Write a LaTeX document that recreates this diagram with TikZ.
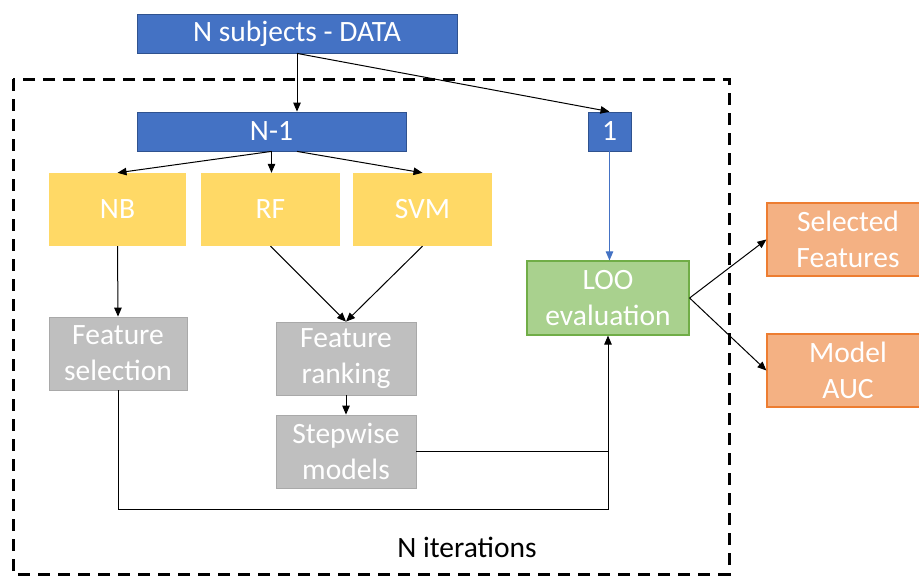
\documentclass[tikz,border=0pt]{standalone}
\usepackage{fontspec}
\setmainfont{Carlito}
\usetikzlibrary{arrows.meta,calc}
\definecolor{cblue}{HTML}{4472C4}
\definecolor{cblueb}{HTML}{2F528F}
\definecolor{cyel}{HTML}{FFD966}
\definecolor{cgray}{HTML}{BFBFBF}
\definecolor{cgrayb}{HTML}{A9A9A9}
\definecolor{cgreen}{HTML}{A9D18E}
\definecolor{cgreenb}{HTML}{70AD47}
\definecolor{corange}{HTML}{F4B183}
\definecolor{corangeb}{HTML}{ED7D31}
\tikzset{
  box/.style={rectangle, inner sep=0pt, text=white, align=center,
    font=\fontsize{29.5}{36}\selectfont},
  bluebox/.style={box, fill=cblue, draw=cblueb, line width=0.8pt},
  yelbox/.style={box, fill=cyel},
  graybox/.style={box, fill=cgray, draw=cgrayb, line width=0.8pt},
  greenbox/.style={box, fill=cgreen, draw=cgreenb, line width=1.2pt},
  orbox/.style={box, fill=corange, draw=corangeb, line width=1.2pt},
  arr/.style={-{Triangle[length=9pt,width=7.5pt]}, line width=1pt, black},
  plain/.style={line width=1pt, black},
  loopbox/.style={line width=3pt, dash pattern=on 12pt off 8pt},
}
\begin{document}
\begin{tikzpicture}[x=1pt,y=-1pt]
\useasboundingbox (0,0) rectangle (919,576);
\fill[white] (0,0) rectangle (919,576);
% dashed iteration frame
\draw[loopbox] (13,79) rectangle (729,574);
\node[font=\fontsize{29.5}{36}\selectfont] (iter) at (467,547) {N iterations};
% nodes
\node[bluebox, minimum width=320pt, minimum height=39pt] (data) at (297,33.5) {N subjects - DATA};
\node[bluebox, minimum width=269pt, minimum height=39pt] (nm1) at (271.5,131.5) {N-1};
\node[bluebox, minimum width=43pt, minimum height=39pt] (one) at (609.5,131.5) {1};
\node[yelbox, minimum width=137pt, minimum height=73pt] (nb) at (117.5,209.5) {NB};
\node[yelbox, minimum width=139pt, minimum height=73pt] (rf) at (270.5,209.5) {RF};
\node[yelbox, minimum width=139pt, minimum height=73pt] (svm) at (422.5,209.5) {SVM};
\node[graybox, minimum width=138pt, minimum height=73pt] (fs) at (118,353.5) {Feature\\selection};
\node[graybox, minimum width=140pt, minimum height=73pt] (fr) at (346,358.5) {Feature\\ranking};
\node[graybox, minimum width=140pt, minimum height=73pt] (sw) at (346,451.5) {Stepwise\\models};
\node[greenbox, minimum width=162pt, minimum height=74pt] (loo) at (608,298) {LOO\\evaluation};
\node[orbox, minimum width=162pt, minimum height=73pt] (sel) at (848,239.5) {Selected\\Features};
\node[orbox, minimum width=162pt, minimum height=73pt] (auc) at (848,370.5) {Model\\AUC};
\coordinate (lp) at (607,509);
\coordinate (svmstart) at ($(nm1.south)+(25.5,0)$);
% connectors
\draw[arr] (data.south) -- (data.south |- nm1.north);
\draw[arr] (data.south) -- (one.north);
\draw[arr] (nm1.south) -- (nb.north);
\draw[arr] (nm1.south) -- (nm1.south |- rf.north);
\draw[arr] (svmstart) -- (svm.north);
\draw[arr] (nb.south) -- (fs.north);
\draw[arr] (rf.south) -- (fr.north);
\draw[arr] (svm.south) -- (fr.north);
\draw[arr] (fr.south) -- (sw.north);
\draw[arr, cblue, line width=0.9pt] (one.south) -- (one.south |- loo.north);
\draw[arr] (fs.south) |- (loo.south |- lp) -- (loo.south);
\draw[plain] (sw.east) -- (sw.east -| loo.south);
\draw[arr] (loo.east) -- (sel.west);
\draw[arr] (loo.east) -- (auc.west);
\end{tikzpicture}
\end{document}
